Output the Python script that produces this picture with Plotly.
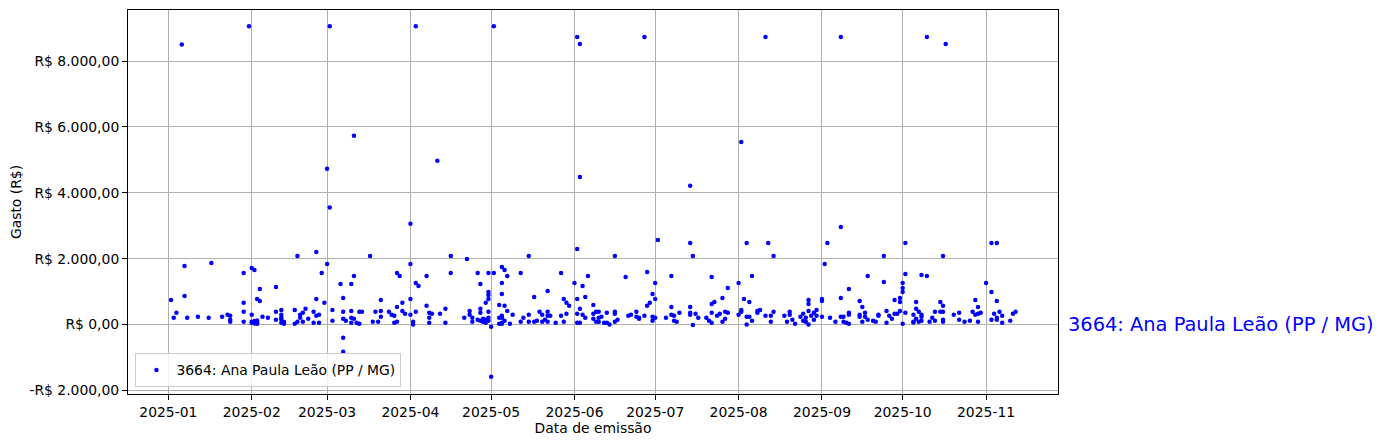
import pandas as pd
import plotly.graph_objects as go

# (day of month, value in R$)
jan = [(2,747),(3,202),(4,354),(6,8500),(7,1778),(7,869),(8,202),(12,232),(16,202),(17,1869),
       (21,232),(23,293),(24,263),(24,141),(24,81),(29,1566),(29,657),(29,384),(29,81),(31,9060)]
feb = [(1,1717),(2,1656),(1,293),(1,81),(2,81),(3,121),(3,20),(4,1081),(3,778),(4,717),(5,232),
       (7,202),(10,1141),(10,384),(10,141),(12,293),(12,202),(12,444),(12,50),(13,20),(1,50),(2,30),
       (3,60),(2,110),(12,150),(13,80),(17,444),(17,20),(18,2080),(18,81),(19,293),(19,202),(20,354),
       (21,475),(20,81),(22,172),(24,384),(25,2200),(25,778),(25,263),(26,293),(24,50),(26,50),
       (27,1566),(28,657)]
mar = [(1,1838),(3,444),(3,111),(6,1232),(7,808),(7,384),(7,172),(8,111),(10,1232),(11,1475),
       (10,414),(10,202),(11,172),(10,50),(12,50),(13,384),(14,384),(13,20),(17,2080),(18,81),
       (19,384),(20,81),(21,747),(21,414),(21,232),(24,384),(25,293),(26,263),(27,1566),(28,1475),
       (27,535),(26,50),(27,81),(29,657),(29,414),(30,323),(7,-404),(7,-828),(2,9060),(11,5730),
       (1,4730),(2,3550)]
apr = [(1,1838),(1,778),(1,293),(2,81),(2,0),(3,1262),(4,1172),(3,384),(7,1475),(7,566),(8,354),
       (8,202),(9,323),(12,323),(8,50),(14,475),(1,3060),(3,9060),(11,4970),(14,50),(16,2080),
       (16,1566),(22,1990),(21,202),(23,414),(23,293),(24,202),(24,81),(26,1566),(27,1232),(27,475),
       (27,354),(29,657),(26,141),(27,111),(28,172),(29,141),(30,1566),(30,990),(30,899),(30,778),
       (30,384),(30,202),(28,81),(29,50),(30,111)]
may = [(1,-71),(1,-1586),(2,1566),(5,1747),(6,1656),(7,1475),(5,1262),(5,929),(4,596),(6,566),
       (7,414),(5,263),(5,202),(4,202),(4,20),(5,50),(8,20),(9,293),(12,1566),(12,81),(13,202),
       (15,2080),(15,293),(15,81),(17,838),(17,81),(19,384),(18,111),(20,293),(20,81),(22,1020),
       (22,384),(22,263),(21,141),(22,81),(23,263),(25,50),(27,1566),(27,263),(28,778),(29,657),
       (30,566),(28,81),(29,323),(2,9060),(6,111),(5,20)]
jun = [(1,1262),(2,2293),(2,778),(2,323),(2,50),(3,475),(3,50),(4,1172),(5,838),(6,1475),(4,293),
       (5,202),(8,596),(8,323),(9,384),(8,172),(9,81),(2,8730),(3,8520),(3,4480),(27,8730),(10,384),
       (10,202),(10,81),(11,232),(12,50),(13,354),(13,50),(14,0),(16,2080),(16,384),(16,323),(16,81),
       (17,141),(20,1444),(21,263),(22,293),(24,384),(24,232),(25,172),(25,202),(27,263),(28,1596),
       (28,566),(29,657),(30,929),(30,232),(30,111)]
jul = [(1,1262),(1,778),(1,202),(2,2565),(5,202),(7,1475),(7,535),(7,293),(8,263),(8,111),(9,81),
       (10,354),(14,2475),(15,2080),(14,535),(14,354),(14,293),(15,-15),(16,323),(17,202),(20,202),
       (21,111),(22,354),(22,50),(22,1444),(22,626),(23,687),(24,263),(25,323),(26,81),(26,808),
       (27,172),(27,384),(28,1111),(28,354),(14,4210)]
aug = [(1,1262),(1,293),(2,444),(2,384),(3,778),(4,232),(4,0),(5,687),(5,232),(6,1475),(4,2475),
       (6,111),(2,5545),(11,8730),(8,354),(8,414),(9,444),(12,2475),(14,2080),(11,263),(13,263),
       (13,81),(14,384),(18,263),(19,81),(20,293),(20,384),(21,141),(22,20),(24,232),(25,323),
       (25,111),(26,202),(26,81),(27,414),(27,626),(27,747),(28,263),(27,0),(29,354),(29,141),
       (30,444),(30,263)]
sep = [(1,778),(1,717),(1,232),(2,1838),(3,2475),(4,202),(6,81),(8,808),(8,232),(9,232),(8,2959),
       (9,81),(11,1081),(11,354),(11,293),(10,50),(11,20),(15,717),(16,535),(15,293),(15,232),
       (17,354),(17,232),(16,81),(18,1475),(18,141),(20,111),(21,81),(22,263),(22,293),(24,2080),
       (24,1293),(25,414),(26,263),(25,50),(27,172),(28,747),(28,323),(29,323),(30,687),(30,414),
       (30,808),(8,8730)]
oct_ = [(1,1262),(1,990),(1,1111),(2,1535),(2,354),(2,2475),(1,20),(10,8730),(17,8520),(5,293),
        (5,81),(5,60),(6,687),(6,475),(7,384),(6,172),(8,1505),(10,1475),(8,293),(8,232),(8,111),
        (7,81),(11,81),(12,202),(13,384),(13,111),(15,687),(16,566),(15,384),(16,384),(16,141),
        (16,81),(16,2080),(20,293),(22,354),(22,141),(24,81),(26,111),(27,384),(28,747),(29,535),
        (28,293),(29,323),(30,354),(29,81)]
nov = [(1,1262),(3,990),(5,717),(3,2475),(5,2475),(3,141),(4,323),(5,202),(5,141),(6,384),(7,263),
       (7,50),(10,111),(11,323),(12,384)]

months = [jan, feb, mar, apr, may, jun, jul, aug, sep, oct_, nov]

series_name = "3664: Ana Paula Leão (PP / MG)"
x_ticks = ["2025-%02d-01" % m for m in range(1, 12)]
x_tick_text = ["2025-%02d" % m for m in range(1, 12)]
y_ticks = [-2000, 0, 2000, 4000, 6000, 8000]
y_tick_text = ["-R$ 2.000,00", "R$ 0,00", "R$ 2.000,00", "R$ 4.000,00", "R$ 6.000,00", "R$ 8.000,00"]

dates, values = [], []
for m, pts in enumerate(months, start=1):
    for d, v in pts:
        dates.append(pd.Timestamp(2025, m, d))
        values.append(v)

font = "DejaVu Sans, Liberation Sans, sans-serif"
fs = 13.9

fig = go.Figure()
fig.add_trace(go.Scatter(
    x=dates, y=values, mode="markers", name=series_name,
    marker=dict(color="#0000ff", size=4.5, line=dict(width=0)),
))

fig.add_annotation(
    x=1, xref="paper", y=0, yref="y", text=series_name, showarrow=False,
    xanchor="left", yanchor="middle", xshift=8,
    font=dict(family=font, size=19.4, color="#0000ff"),
)

axis_common = dict(
    showgrid=True, gridcolor="#b0b0b0", gridwidth=1,
    showline=True, linecolor="black", linewidth=1, mirror=True,
    ticks="outside", ticklen=5, tickcolor="black", zeroline=False,
    automargin=False,
    tickfont=dict(family=font, size=fs, color="black"),
)

# the page body has an 8px default margin, so the figure is 8px smaller
fig.update_layout(
    width=1375, height=440, autosize=False,
    margin=dict(l=120, r=325, t=2, b=54),
    paper_bgcolor="white", plot_bgcolor="white",
    font=dict(family=font, size=fs, color="black"),
    showlegend=True,
    legend=dict(
        x=0.008, y=0.017, xanchor="left", yanchor="bottom",
        bgcolor="rgba(255,255,255,0.8)", bordercolor="#cccccc", borderwidth=1,
        font=dict(family=font, size=fs, color="black"),
    ),
    xaxis=dict(
        **axis_common,
        range=["2024-12-17", "2025-11-27 18:00"],
        tickvals=x_ticks, ticktext=x_tick_text,
        title=dict(text="Data de emissão", font=dict(family=font, size=fs), standoff=4),
    ),
    yaxis=dict(
        **axis_common,
        range=[-2110, 9550],
        tickvals=y_ticks, ticktext=y_tick_text,
        title=dict(text="Gasto (R$)", font=dict(family=font, size=fs), standoff=5),
    ),
)

fig.write_html("out.html")
